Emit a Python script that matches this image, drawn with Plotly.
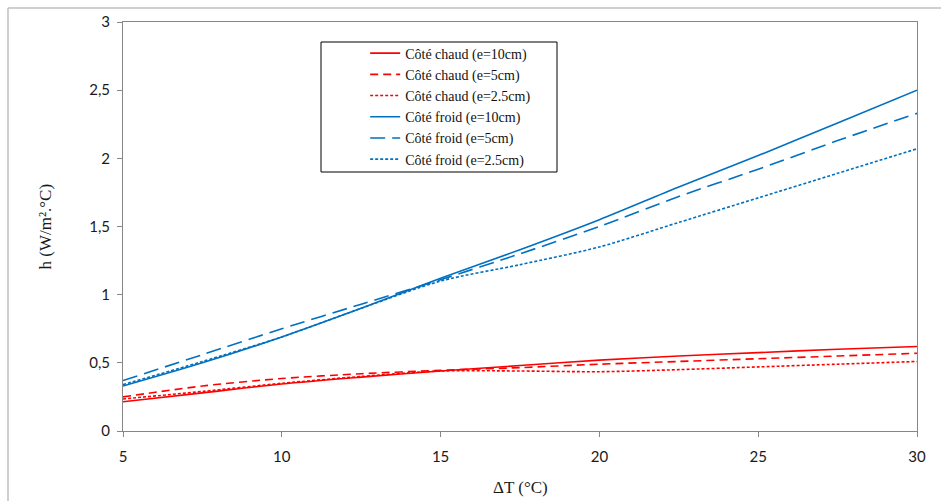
import plotly.graph_objects as go

# Temperature difference (°C)
delta_t = [5, 7.5, 10, 12.5, 15, 17.5, 20, 22.5, 25, 27.5, 30]

# Heat transfer coefficient h (W/m².°C), hot side
chaud_10 = [0.215, 0.28, 0.345, 0.395, 0.44, 0.48, 0.52, 0.55, 0.575, 0.60, 0.62]
chaud_5 = [0.25, 0.33, 0.385, 0.42, 0.445, 0.465, 0.49, 0.51, 0.53, 0.55, 0.57]
chaud_25 = [0.235, 0.29, 0.35, 0.40, 0.44, 0.44, 0.435, 0.45, 0.47, 0.49, 0.51]

# Cold side
froid_10 = [0.33, 0.50, 0.69, 0.90, 1.12, 1.33, 1.55, 1.79, 2.02, 2.26, 2.50]
froid_5 = [0.37, 0.56, 0.75, 0.93, 1.11, 1.30, 1.50, 1.72, 1.92, 2.13, 2.33]
froid_25 = [0.34, 0.51, 0.69, 0.90, 1.10, 1.22, 1.35, 1.53, 1.71, 1.89, 2.07]

RED = "#FF0000"
BLUE = "#0070C0"

series = [
    ("Côté chaud (e=10cm)", chaud_10, RED, "solid"),
    ("Côté chaud (e=5cm)", chaud_5, RED, "8px,5px"),
    ("Côté chaud (e=2.5cm)", chaud_25, RED, "3px,2px"),
    ("Côté froid (e=10cm)", froid_10, BLUE, "solid"),
    ("Côté froid (e=5cm)", froid_5, BLUE, "15px,7px"),
    ("Côté froid (e=2.5cm)", froid_25, BLUE, "3px,2px"),
]

fig = go.Figure()
for name, values, color, dash in series:
    fig.add_trace(go.Scatter(
        x=delta_t, y=values, name=name, mode="lines",
        line=dict(color=color, width=1.6, dash=dash, shape="spline", smoothing=0.8),
    ))

axis_common = dict(
    showline=True, linecolor="#868686", linewidth=1, mirror=True,
    ticks="outside", tickcolor="#868686", ticklen=5, tickwidth=1,
    showgrid=False, zeroline=False, automargin=False,
    tickfont=dict(family="Lato", size=15, color="#1a1a1a"),
)

title_font = dict(family="Liberation Serif", size=17, color="#1a1a1a")

fig.update_layout(
    width=941, height=501,
    margin=dict(l=123, r=24, t=22, b=70),
    paper_bgcolor="white", plot_bgcolor="white",
    xaxis=dict(range=[5, 30], tickvals=[5, 10, 15, 20, 25, 30],
               ticklabelstandoff=7, **axis_common),
    yaxis=dict(range=[0, 3], tickvals=[0, 0.5, 1, 1.5, 2, 2.5, 3],
               ticktext=["0", "0,5", "1", "1,5", "2", "2,5", "3"],
               ticklabelstandoff=4, **axis_common),
    legend=dict(
        x=0.305, y=0.962, xanchor="left", yanchor="top",
        bgcolor="rgba(0,0,0,0)", borderwidth=0,
        font=dict(family="Liberation Serif", size=14, color="#111111"),
        tracegroupgap=0,
    ),
    annotations=[
        dict(text="ΔT (°C)", xref="paper", yref="paper", x=0.5, y=-56 / 409,
             xanchor="center", yanchor="middle", showarrow=False, font=title_font),
        dict(text="h (W/m².°C)", xref="paper", yref="paper", x=(45 - 123) / 794, y=0.5,
             xanchor="center", yanchor="middle", textangle=-90, showarrow=False,
             font=title_font),
    ],
    shapes=[
        # legend frame
        dict(type="rect", xref="paper", yref="paper",
             x0=(321 - 123) / 794, x1=(557 - 123) / 794,
             y0=(431 - 172) / 409, y1=(431 - 42) / 409,
             line=dict(color="#000000", width=1), fillcolor="rgba(0,0,0,0)"),
        # outer chart frame
        dict(type="line", xref="paper", yref="paper",
             x0=(8 - 123) / 794, x1=1.1, y0=(431 - 8) / 409, y1=(431 - 8) / 409,
             line=dict(color="#BFBFBF", width=1.5)),
        dict(type="line", xref="paper", yref="paper",
             x0=(8 - 123) / 794, x1=(8 - 123) / 794, y0=(431 - 8) / 409, y1=-0.25,
             line=dict(color="#BFBFBF", width=1.5)),
    ],
)

fig.write_html("out.html")
